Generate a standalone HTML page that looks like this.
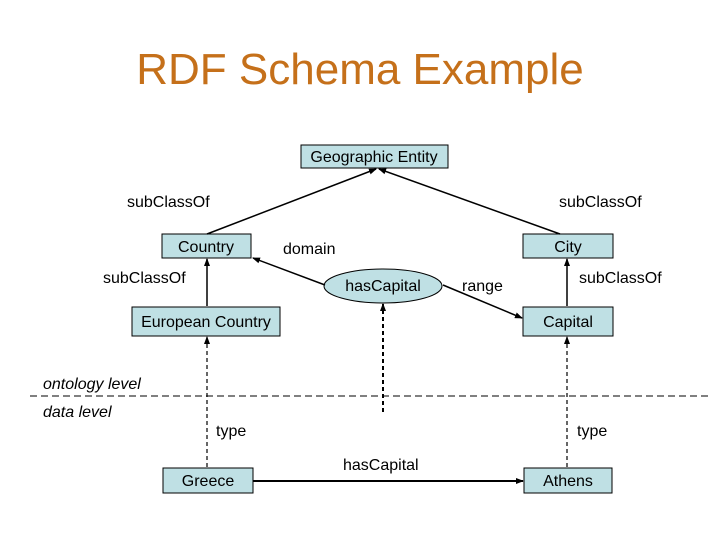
<!DOCTYPE html>
<html><head><style>
body{margin:0;width:720px;height:540px;background:#fff;overflow:hidden}
svg text{font-family:"Liberation Sans",sans-serif;font-size:16px;fill:#000}
</style></head><body>
<svg width="720" height="540" viewBox="0 0 720 540">
<defs><marker id="a" markerWidth="8" markerHeight="8" refX="7" refY="4" orient="auto" markerUnits="userSpaceOnUse"><path d="M0,1 L8,4 L0,7z" fill="#000"/></marker></defs>
<text x="360" y="84" text-anchor="middle" style="font-size:44px;fill:#c5701a">RDF Schema Example</text>
<g fill="#bfe0e4" stroke="#000" stroke-width="1">
<rect x="301" y="145" width="147" height="23"/>
<rect x="162" y="234" width="89" height="24"/>
<rect x="523" y="234" width="90" height="24"/>
<rect x="132" y="307" width="148" height="29"/>
<rect x="523" y="307" width="90" height="29"/>
<ellipse cx="383" cy="286" rx="59" ry="17"/>
<rect x="163" y="468" width="90" height="25"/>
<rect x="524" y="468" width="88" height="25"/>
</g>
<g stroke="#000" stroke-width="1.5" fill="none" marker-end="url(#a)">
<line x1="207" y1="234" x2="376" y2="169"/>
<line x1="560" y1="234" x2="379" y2="169"/>
<line x1="325" y1="285" x2="253" y2="258"/>
<line x1="443" y1="285" x2="522" y2="318"/>
<line x1="207" y1="306" x2="207" y2="259"/>
<line x1="567" y1="306" x2="567" y2="259"/>
<line x1="253" y1="481" x2="523" y2="481" stroke-width="2"/>
</g>
<g stroke="#000" stroke-width="1.2" fill="none" stroke-dasharray="4,3" marker-end="url(#a)">
<line x1="207" y1="467" x2="207" y2="337"/>
<line x1="567" y1="467" x2="567" y2="337"/>
<line x1="383" y1="412" x2="383" y2="304" stroke-width="2"/>
</g>
<line x1="30" y1="396" x2="710" y2="396" stroke="#000" stroke-dasharray="7,4"/>
<text x="374" y="162" text-anchor="middle">Geographic Entity</text>
<text x="206" y="252" text-anchor="middle">Country</text>
<text x="568" y="252" text-anchor="middle">City</text>
<text x="206" y="327" text-anchor="middle">European Country</text>
<text x="568" y="327" text-anchor="middle">Capital</text>
<text x="383" y="291" text-anchor="middle">hasCapital</text>
<text x="208" y="486" text-anchor="middle">Greece</text>
<text x="568" y="486" text-anchor="middle">Athens</text>
<text x="127" y="207">subClassOf</text>
<text x="559" y="207">subClassOf</text>
<text x="103" y="283">subClassOf</text>
<text x="579" y="283">subClassOf</text>
<text x="283" y="254">domain</text>
<text x="462" y="291">range</text>
<text x="43" y="389" style="font-style:italic">ontology level</text>
<text x="43" y="417" style="font-style:italic">data level</text>
<text x="216" y="436">type</text>
<text x="577" y="436">type</text>
<text x="343" y="470">hasCapital</text>
</svg>
</body></html>
